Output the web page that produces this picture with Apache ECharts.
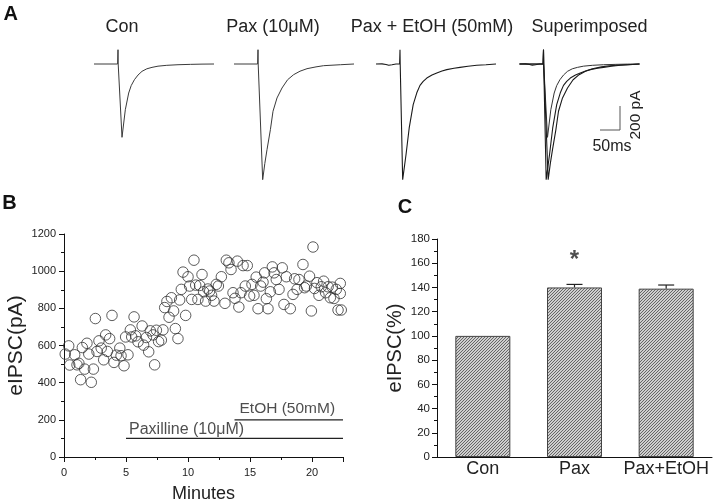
<!DOCTYPE html>
<html><head><meta charset="utf-8">
<script src="https://cdn.jsdelivr.net/npm/echarts@6/dist/echarts.min.js"></script>
<style>html,body{margin:0;padding:0;background:#fff}#c{width:720px;height:504px}</style>
</head><body><div id="c"></div>
<script>
const FONT = '"Liberation Sans", Arial, Helvetica, sans-serif';

// ---------- Panel A: eIPSC traces (time in ms relative to stimulus, current in pA) ----------
const traceTitles = ['Con', 'Pax (10μM)', 'Pax + EtOH (50mM)', 'Superimposed'];
const conT = [-60, -1, 0, 0.5, 10, 14, 18.3, 26.7, 33, 41, 50, 60, 72, 85, 100, 122, 150, 181, 210, 240];
const conI = [0, 0, 119, 0, -611, -500, -381, -242, -180, -131, -92, -61, -40, -28, -18, -11, -6, -3, -1, 0];
const paxT = [-60, -1, 0, 0.5, 11.7, 17, 22.5, 31, 37.5, 47.5, 60, 74, 89, 105, 122.5, 145, 164, 206, 240];
const paxI = [0, 0, 119, 0, -964, -830, -714, -547, -394, -283, -200, -131, -89, -60, -39, -24, -14, -6, 0];
const paxEtT = [-60, -45, -35, -28, -20, -10, -1, 0, 0.5, 6.7, 15, 23, 33, 42, 50, 58, 67, 80, 92, 105, 117, 135, 150, 170, 192, 215, 240];
const paxEtI = [0, 1, -4, -10, -6, 0, 0, 119, 0, -964, -756, -533, -339, -240, -178, -145, -117, -92, -75, -58, -47, -36, -28, -19, -11, -6, 0];
const scaleBarT = [0, 50, 50];
const scaleBarI = [0, 0, 200];

// ---------- Panel B: eIPSC amplitude over time ----------
const bMinutes = [0.1,0.38,0.46,0.86,1.05,1.2,1.34,1.48,1.67,1.85,2.0,2.2,2.37,2.53,2.66,2.82,3.0,3.2,3.36,3.5,3.68,3.87,4.03,4.22,4.5,4.6,4.84,4.97,5.16,5.35,5.46,5.65,5.78,5.97,6.3,6.42,6.64,6.83,6.96,7.18,7.31,7.45,7.63,7.85,7.98,8.12,8.3,8.47,8.66,8.84,8.98,9.19,9.33,9.46,9.6,9.81,10.0,10.13,10.3,10.48,10.62,10.8,10.94,11.13,11.26,11.42,11.6,11.75,11.9,12.1,12.28,12.45,12.69,12.98,13.09,13.3,13.47,13.63,13.79,13.98,14.1,14.27,14.44,14.62,14.78,14.97,15.16,15.32,15.5,15.65,15.86,16.05,16.18,16.32,16.45,16.64,16.8,16.94,17.12,17.34,17.6,17.74,17.93,18.25,18.47,18.6,18.8,18.95,19.27,19.4,19.54,19.8,19.95,20.08,20.2,20.4,20.56,20.75,20.94,21.1,21.3,21.48,21.64,21.77,21.96,22.1,22.28,22.28,22.36];
const bValues = [554,598,495,550,496,504,416,589,473,612,554,402,473,745,568,625,586,523,657,568,637,762,509,548,586,545,491,646,550,684,646,754,652,620,705,602,643,566,679,657,496,682,621,629,684,804,837,752,857,786,691,637,845,902,995,762,970,920,848,1059,925,848,923,982,889,839,904,893,870,839,929,920,970,827,1059,1045,1009,884,854,1054,807,884,1030,920,1030,866,929,870,968,798,920,941,991,852,798,889,1023,991,955,902,1018,821,970,798,875,959,902,955,1036,911,920,973,786,1130,907,938,870,916,946,884,916,857,914,853,902,791,934,880,791];
const paxillineBar = [[5, 100], [22.5, 100]];
const etohBar = [[13.75, 200], [22.5, 200]];
const paxillineLabel = 'Paxilline (10μM)';
const etohLabel = 'EtOH (50mM)';

// ---------- Panel C: normalized eIPSC ----------
const cCategories = ['Con', 'Pax', 'Pax+EtOH'];
const cValues = [100, 140, 139];
const cErrors = [0, 2.5, 3];
const cSignif = [null, '*', null];

const zip = (a, b) => a.map((v, i) => [v, b[i]]);

// hatch pattern
const P = 3;
const pat = document.createElement('canvas');
pat.width = P; pat.height = P;
const pc = pat.getContext('2d');
pc.fillStyle = '#cfcfcf'; pc.fillRect(0, 0, P, P);
pc.strokeStyle = '#5a5a5a'; pc.lineWidth = 0.9;
pc.beginPath();
pc.moveTo(-1, P + 1); pc.lineTo(P + 1, -1);
pc.moveTo(-1, 1); pc.lineTo(1, -1);
pc.moveTo(P - 1, P + 1); pc.lineTo(P + 1, P - 1);
pc.stroke();

const chart = echarts.init(document.getElementById('c'), null, {renderer: 'canvas'});

const traceLefts = [94, 234, 376, 519.5];
const grids = traceLefts.map(l => ({left: l, top: 40, width: 120, height: 144}));
grids.push({left: 600, top: 106, width: 20, height: 24});           // scale bar
grids.push({left: 64, top: 234, width: 279, height: 224});          // B
grids.push({left: 437, top: 239, width: 275, height: 218});         // C

const hiddenX = i => ({type: 'value', gridIndex: i, min: -60, max: 240, show: false});
const hiddenY = i => ({type: 'value', gridIndex: i, min: -1000, max: 200, show: false});

const axisCommon = {
  axisLine: {show: true, lineStyle: {color: '#111', width: 1}},
  axisTick: {show: true, length: 5, lineStyle: {color: '#111'}},
  minorTick: {show: true, splitNumber: 2, length: 3, lineStyle: {color: '#111'}},
  splitLine: {show: false},
  axisLabel: {color: '#222', fontFamily: FONT, fontSize: 11, formatter: v => String(v)}
};

const xAxes = [0, 1, 2, 3].map(hiddenX);
xAxes.push({type: 'value', gridIndex: 4, min: 0, max: 50, show: false});
xAxes.push(Object.assign({}, axisCommon, {
  type: 'value', gridIndex: 5, min: 0, max: 22.5, interval: 5,
  axisLabel: Object.assign({}, axisCommon.axisLabel, {margin: 10, showMaxLabel: false}),
  name: 'Minutes', nameLocation: 'middle', nameGap: 28,
  nameTextStyle: {fontFamily: FONT, fontSize: 18, color: '#222'}
}));
xAxes.push({
  type: 'category', gridIndex: 6, data: cCategories,
  axisLine: {show: true, lineStyle: {color: '#111', width: 1}},
  axisTick: {show: false},
  axisLabel: {color: '#222', fontFamily: FONT, fontSize: 18, margin: 3, interval: 0, hideOverlap: false}
});

const yAxes = [0, 1, 2, 3].map(hiddenY);
yAxes.push({type: 'value', gridIndex: 4, min: 0, max: 200, show: false});
yAxes.push(Object.assign({}, axisCommon, {
  type: 'value', gridIndex: 5, min: 0, max: 1200, interval: 200,
  axisLabel: Object.assign({}, axisCommon.axisLabel, {margin: 8}),
  name: 'eIPSC(pA)', nameLocation: 'middle', nameGap: 37, nameRotate: 90,
  nameTextStyle: {fontFamily: FONT, fontSize: 21, color: '#222'}
}));
yAxes.push(Object.assign({}, axisCommon, {
  type: 'value', gridIndex: 6, min: 0, max: 180, interval: 20,
  axisLabel: Object.assign({}, axisCommon.axisLabel, {margin: 7, fontSize: 11.5}),
  name: 'eIPSC(%)', nameLocation: 'middle', nameGap: 32, nameRotate: 90,
  nameTextStyle: {fontFamily: FONT, fontSize: 20, color: '#222'}
}));

const traceLine = (data, idx, color, width) => ({
  type: 'line', xAxisIndex: idx, yAxisIndex: idx, data: data, showSymbol: false, symbol: 'none',
  lineStyle: {color: color, width: width}, silent: true, animation: false, clip: false
});

const barLabel = (pt, text, size, distance, dx) => ({
  type: 'scatter', xAxisIndex: 5, yAxisIndex: 5, symbolSize: 0, animation: false, silent: true,
  data: [pt],
  label: {show: true, formatter: text, position: 'top', align: 'left', distance: distance, offset: [dx, 0],
    fontFamily: FONT, fontSize: size, color: '#222'}
});

const series = [
  traceLine(zip(conT, conI), 0, '#3a3a3a', 1),
  traceLine(zip(paxT, paxI), 1, '#3a3a3a', 1),
  traceLine(zip(paxEtT, paxEtI), 2, '#1a1a1a', 1.1),
  traceLine(zip(conT, conI), 3, '#333', 1),
  traceLine(zip(paxT, paxI), 3, '#1a1a1a', 1.1),
  traceLine(zip(paxEtT, paxEtI), 3, '#1a1a1a', 1.1),
  traceLine(zip(scaleBarT, scaleBarI), 4, '#555', 1),
  {
    type: 'scatter', xAxisIndex: 5, yAxisIndex: 5, data: zip(bMinutes, bValues),
    symbol: 'circle', symbolSize: 10.5,
    itemStyle: {color: 'rgba(0,0,0,0)', borderColor: '#333', borderWidth: 1}, animation: false
  },
  {
    type: 'line', xAxisIndex: 5, yAxisIndex: 5, symbol: 'none', showSymbol: false, animation: false,
    lineStyle: {color: '#222', width: 1.2}, data: paxillineBar
  },
  {
    type: 'line', xAxisIndex: 5, yAxisIndex: 5, symbol: 'none', showSymbol: false, animation: false,
    lineStyle: {color: '#222', width: 1.2}, data: etohBar
  },
  barLabel(paxillineBar[0], paxillineLabel, 16, 1, 3),
  barLabel(etohBar[0], etohLabel, 15.5, 3, 5),
  {
    type: 'bar', xAxisIndex: 6, yAxisIndex: 6, data: cValues, barWidth: '60%', animation: false,
    itemStyle: {color: {image: pat, repeat: 'repeat'}, borderColor: '#444', borderWidth: 1}
  },
  {
    type: 'custom', xAxisIndex: 6, yAxisIndex: 6, animation: false,
    data: cValues.map((v, i) => [i, v, cErrors[i]]),
    renderItem: function (params, api) {
      const e = api.value(2);
      if (!e) return null;
      const base = api.coord([api.value(0), api.value(1)]);
      const top = api.coord([api.value(0), api.value(1) + e]);
      const hw = 8;
      return {type: 'group', children: [
        {type: 'line', shape: {x1: top[0], y1: base[1], x2: top[0], y2: top[1]}, style: {stroke: '#222', lineWidth: 1.2}},
        {type: 'line', shape: {x1: top[0] - hw, y1: top[1], x2: top[0] + hw, y2: top[1]}, style: {stroke: '#222', lineWidth: 1.2}}
      ]};
    }
  },
  {
    type: 'scatter', xAxisIndex: 6, yAxisIndex: 6, symbolSize: 0, animation: false,
    data: cSignif.map((s, i) => s ? {value: [i, 167], label: {show: true, formatter: s}} : null).filter(Boolean),
    label: {position: 'inside', fontFamily: FONT, fontSize: 24, fontWeight: 'bold', color: '#222', offset: [0, 6]}
  }
];

const txt = (text, x, y, size, opts) => Object.assign({
  type: 'text', x: x, y: y,
  style: Object.assign({text: text, fontFamily: FONT, fontSize: size, fill: '#111',
    align: 'center', verticalAlign: 'middle', textAlign: 'center', textVerticalAlign: 'middle'}, (opts && opts.style) || {})
}, (opts && opts.el) || {});

const traceCenters = [122, 273, 432, 589.5];
const graphic = [
  txt('A', 10.8, 14, 20, {style: {fontWeight: 'bold'}}),
  txt('B', 9.5, 203, 20, {style: {fontWeight: 'bold'}}),
  txt('C', 405, 207, 20, {style: {fontWeight: 'bold'}}),
  ...traceTitles.map((t, i) => txt(t, traceCenters[i], 27, 18, {style: {fill: '#222'}})),
  txt('50ms', 612, 147, 16, {style: {fill: '#222'}}),
  txt('200 pA', 636, 115, 15.5, {style: {fill: '#222'}, el: {rotation: Math.PI / 2}})
];

chart.setOption({
  backgroundColor: '#fff',
  animation: false,
  grid: grids,
  xAxis: xAxes,
  yAxis: yAxes,
  series: series,
  graphic: graphic
});
</script></body></html>
